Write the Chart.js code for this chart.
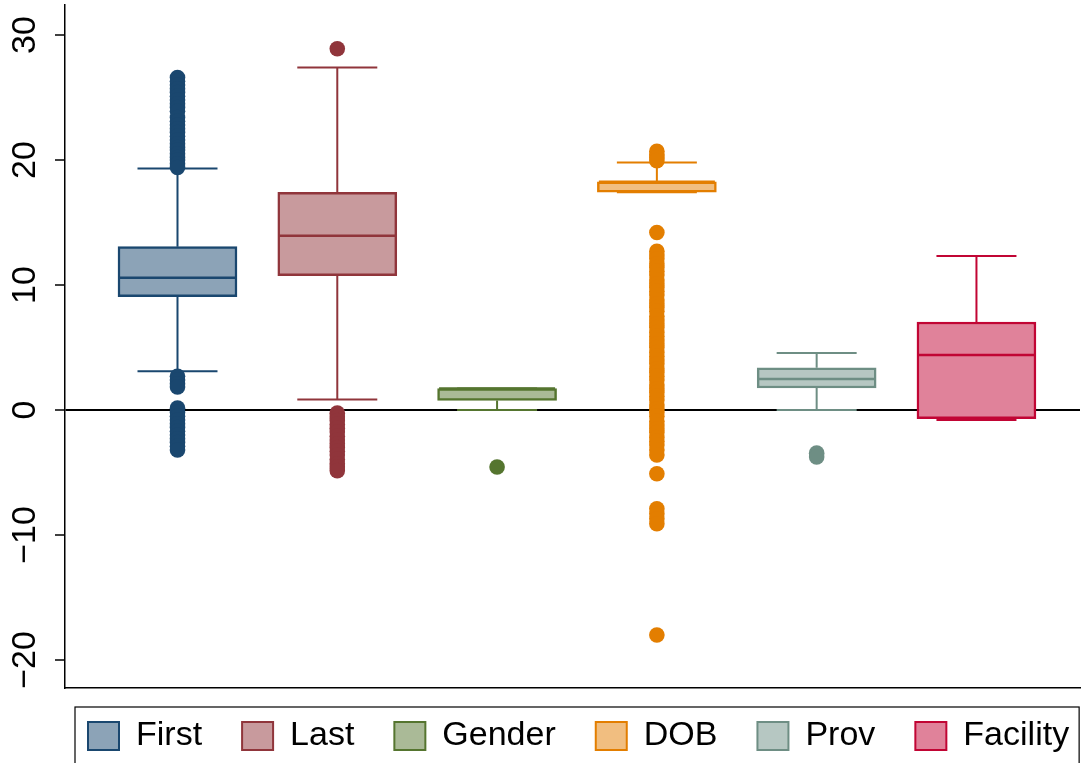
<!DOCTYPE html>
<html>
<head>
<meta charset="utf-8">
<script src="https://cdn.jsdelivr.net/npm/chart.js@4.4.0/dist/chart.umd.min.js"></script>
<style>
  html, body { margin: 0; padding: 0; background: #fff; }
  #wrap { width: 1081px; height: 763px; }
</style>
</head>
<body>
<div id="wrap"><canvas id="boxChart"></canvas></div>
<script>
// categories and box statistics
const categories = ['First', 'Last', 'Gender', 'DOB', 'Prov', 'Facility'];
const positions = [1, 2, 3, 4, 5, 6];
const lowerQuartile = [9.07, 10.75, 0.76, 17.42, 1.76, -0.7];
const medians = [10.59, 13.94, 1.72, 18.26, 2.48, 4.4];
const upperQuartile = [13.07, 17.41, 1.72, 18.26, 3.38, 7.04];
const whiskerLow = [3.1, 0.85, 0.0, 17.42, 0.0, -0.8];
const whiskerHigh = [19.33, 27.41, 1.72, 19.8, 4.56, 12.32];

// outside values
const outFirst = [26.6, 26.3, 26.0, 25.7, 25.4, 25.1, 24.8, 24.5, 24.2, 23.9, 23.4, 23.1, 22.8, 22.5, 22.2, 21.9,
  21.6, 21.3, 21.0, 20.8, 20.5, 20.2, 20.0, 19.7, 19.4,
  2.7, 2.4, 2.1, 1.85, 0.15, -0.2, -0.5, -0.8, -1.1, -1.4, -1.7, -2.0, -2.3, -2.6, -2.9, -3.2];
const outLast = [28.9, -0.25, -0.55, -0.85, -1.15, -1.45, -1.75, -2.1, -2.4, -2.7, -3.0, -3.3, -3.6, -3.95, -4.3, -4.55, -4.85];
const outGender = [-4.56];
const outDOB = [20.7, 20.45, 20.2, 19.95,
  14.2, 12.7, 12.4, 12.1, 11.7, 11.4, 11.1, 10.8, 10.4, 10.1, 9.8, 9.5, 9.2, 8.8, 8.5, 8.2, 7.9, 7.5, 7.2, 6.9,
  6.6, 6.2, 5.9, 5.6, 5.3, 5.0, 4.6, 4.3, 4.0, 3.7, 3.3, 3.0, 2.7, 2.4, 2.0, 1.7, 1.4, 1.1, 0.8, 0.4, 0.1,
  -0.2, -0.5, -0.9, -1.2, -1.5, -1.8, -2.2, -2.5, -2.8, -3.2, -3.6, -5.1, -7.9, -8.3, -8.7, -9.1, -18.0];
const outProv = [-3.45, -3.75];
const outFacility = [];
const outliers = [outFirst, outLast, outGender, outDOB, outProv, outFacility];

const yTicks = [-20, -10, 0, 10, 20, 30];

// Stata s2color style
const lineColors = ['#1a476f', '#90353b', '#55752f', '#e37e00', '#6e8e84', '#c10534'];
const fillColors = ['#8ca3b7', '#c89a9d', '#aaba97', '#f1be80', '#b6c7c2', '#e0829a'];

const font = 'Liberation Sans, Arial, Helvetica, sans-serif';

// whiskers, caps and median lines on top of the boxes
const whiskerPlugin = {
  id: 'whiskers',
  afterDatasetDraw(chart, args) {
    if (args.index !== 0) return;
    const { ctx, scales: { x, y } } = chart;
    ctx.save();
    categories.forEach((c, i) => {
      const cx = x.getPixelForValue(positions[i]);
      const yHi = y.getPixelForValue(whiskerHigh[i]);
      const yLo = y.getPixelForValue(whiskerLow[i]);
      ctx.strokeStyle = lineColors[i];
      ctx.lineWidth = 2;
      ctx.beginPath();
      ctx.moveTo(cx, y.getPixelForValue(upperQuartile[i]));
      ctx.lineTo(cx, yHi);
      ctx.moveTo(cx, y.getPixelForValue(lowerQuartile[i]));
      ctx.lineTo(cx, yLo);
      ctx.moveTo(cx - 40, yHi);
      ctx.lineTo(cx + 40, yHi);
      ctx.moveTo(cx - 40, yLo);
      ctx.lineTo(cx + 40, yLo);
      ctx.stroke();
      const ym = y.getPixelForValue(medians[i]);
      ctx.lineWidth = 2.5;
      ctx.beginPath();
      ctx.moveTo(cx - 58, ym);
      ctx.lineTo(cx + 58, ym);
      ctx.stroke();
    });
    ctx.restore();
  }
};

// move the legend under the plot and frame it
const legendFrame = {
  id: 'legendFrame',
  afterLayout(chart) {
    const lg = chart.legend;
    lg.left += 48; lg.right += 48;
    lg.top -= 10; lg.bottom -= 10;
  },
  afterDraw(chart) {
    const hb = chart.legend.legendHitBoxes;
    if (!hb || !hb.length) return;
    const last = hb[hb.length - 1];
    const left = hb[0].left - 13;
    const right = last.left + last.width + 10;
    const top = hb[0].top - 12;
    const ctx = chart.ctx;
    ctx.save();
    ctx.strokeStyle = '#000';
    ctx.lineWidth = 1.2;
    ctx.strokeRect(left, top, right - left, 80);
    ctx.restore();
  }
};

const noPad = s => { s.paddingTop = 0; s.paddingBottom = 0; s.paddingLeft = 0; s.paddingRight = 0; };

const datasets = [{
  type: 'bar',
  label: 'boxes',
  data: positions.map((p, i) => ({ x: p, y: [lowerQuartile[i], upperQuartile[i]] })),
  backgroundColor: fillColors,
  borderColor: lineColors,
  borderWidth: 2.5,
  borderSkipped: false,
  barThickness: 119,
  order: 1
}];
categories.forEach((c, i) => {
  datasets.push({
    type: 'scatter',
    label: c,
    data: outliers[i].map(v => ({ x: positions[i], y: v })),
    backgroundColor: lineColors[i],
    borderWidth: 0,
    pointRadius: 7.8,
    order: 0
  });
});

new Chart(document.getElementById('boxChart'), {
  type: 'bar',
  data: { datasets },
  options: {
    responsive: true,
    maintainAspectRatio: false,
    animation: false,
    layout: { autoPadding: false, padding: { top: 5, left: 0, right: 1, bottom: 0 } },
    scales: {
      x: {
        type: 'linear',
        offset: false,
        min: 0.296,
        max: 6.648,
        ticks: { display: false },
        grid: { display: false, drawTicks: false },
        border: { display: true, color: '#000', width: 1.5 },
        afterFit: s => { s.height = 1; noPad(s); }
      },
      y: {
        min: -22.24,
        max: 32.4,
        afterBuildTicks: s => { s.ticks = yTicks.map(v => ({ value: v })); },
        afterFit: s => { s.width = 65; noPad(s); },
        ticks: {
          autoSkip: false,
          minRotation: 90,
          maxRotation: 90,
          crossAlign: 'center',
          padding: 1,
          color: '#000',
          font: { family: font, size: 34 },
          callback: v => String(v).replace('-', '\u2212')
        },
        grid: {
          color: c => (c.tick && c.tick.value === 0 ? '#000' : 'rgba(0,0,0,0)'),
          lineWidth: 2,
          tickColor: '#000',
          tickWidth: 1.5,
          tickLength: 10
        },
        border: { display: true, color: '#000', width: 1.5 }
      }
    },
    plugins: {
      tooltip: { enabled: false },
      legend: {
        position: 'bottom',
        align: 'start',
        maxHeight: 74,
        labels: {
          boxWidth: 31,
          boxHeight: 28,
          padding: 40,
          color: '#000',
          font: { family: font, size: 34 },
          generateLabels: () => categories.map((c, i) => ({
            text: c,
            fillStyle: fillColors[i],
            strokeStyle: lineColors[i],
            lineWidth: 2,
            hidden: false,
            datasetIndex: 0
          }))
        }
      }
    }
  },
  plugins: [whiskerPlugin, legendFrame]
});
</script>
</body>
</html>
